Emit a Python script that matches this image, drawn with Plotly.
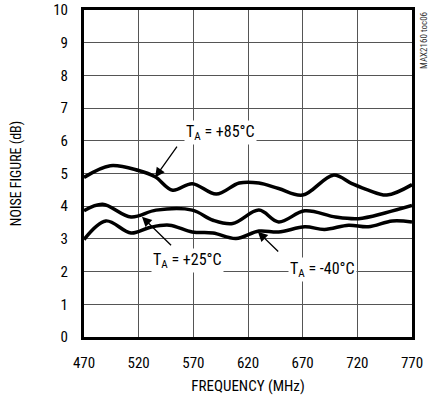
import plotly.graph_objects as go

freq_85 = [470, 494, 520, 535, 551, 569, 591, 612, 630, 648, 670, 698, 715, 730, 747, 770]
nf_85 = [4.88, 5.24, 5.09, 4.9, 4.49, 4.69, 4.37, 4.71, 4.71, 4.54, 4.34, 4.95, 4.69, 4.49, 4.34, 4.66]

freq_25 = [470, 487, 513, 536, 569, 588, 606, 630, 648, 672, 700, 721, 746, 770]
nf_25 = [3.86, 4.06, 3.67, 3.88, 3.88, 3.57, 3.47, 3.88, 3.52, 3.86, 3.67, 3.62, 3.80, 4.02]

freq_m40 = [470, 490, 513, 530, 548, 569, 588, 609, 630, 648, 672, 690, 712, 730, 752, 770]
nf_m40 = [2.98, 3.55, 3.18, 3.35, 3.42, 3.21, 3.18, 3.01, 3.24, 3.21, 3.37, 3.29, 3.42, 3.37, 3.55, 3.52]

x_ticks = [470, 520, 570, 620, 670, 720, 770]
y_ticks = [0, 1, 2, 3, 4, 5, 6, 7, 8, 9, 10]

FONT = "Liberation Sans Narrow, Roboto Condensed, Liberation Sans, Arial"

fig = go.Figure()
for fx, fy in [(freq_85, nf_85), (freq_25, nf_25), (freq_m40, nf_m40)]:
    fig.add_trace(go.Scatter(x=fx, y=fy, mode="lines",
                             line=dict(color="black", width=3.5, shape="spline", smoothing=1.0),
                             showlegend=False, hoverinfo="skip"))

labels = [
    ("T<sub>A</sub> = +85°C", 595, 6.24, 556, 5.87, 535, 4.88),
    ("T<sub>A</sub> = +25°C", 565, 2.35, 551, 2.76, 523, 3.68),
    ("T<sub>A</sub> = -40°C", 688, 2.05, 649, 2.57, 629, 3.22),
]
for text, tx, ty, ax0, ay0, hx, hy in labels:
    fig.add_annotation(x=tx, y=ty, text=text, showarrow=False,
                       font=dict(family=FONT, size=16, color="black"),
                       bgcolor="white", borderpad=1)
    fig.add_annotation(x=hx, y=hy, ax=ax0, ay=ay0, axref="x", ayref="y",
                       text="", showarrow=True, arrowhead=2, arrowsize=1.5,
                       arrowwidth=1.3, arrowcolor="black", standoff=0)

fig.add_annotation(x=1.035, y=1.0, xref="paper", yref="paper", text="MAX2160 toc06",
                   textangle=-90, showarrow=False, xanchor="center", yanchor="top",
                   font=dict(family=FONT, size=9, color="#333"))

fig.update_xaxes(range=[470, 770], tickvals=x_ticks, ticktext=[str(v) for v in x_ticks],
                 showgrid=True, gridcolor="#555", gridwidth=1,
                 showline=True, linecolor="black", linewidth=3, mirror=True,
                 ticks="", zeroline=False, automargin=False, ticklabelstandoff=10,
                 title=dict(text="FREQUENCY (MHz)", font=dict(family=FONT, size=15, color="black"), standoff=10),
                 tickfont=dict(family=FONT, size=15, color="black"))
fig.update_yaxes(range=[0, 10], tickvals=y_ticks, ticktext=[str(v) for v in y_ticks],
                 showgrid=True, gridcolor="#555", gridwidth=1,
                 showline=True, linecolor="black", linewidth=3, mirror=True,
                 ticks="", zeroline=False, automargin=False, ticklabelstandoff=10,
                 title=dict(text="NOISE FIGURE (dB)", font=dict(family=FONT, size=14, color="black"), standoff=29),
                 tickfont=dict(family=FONT, size=15, color="black"))

fig.update_layout(width=436, height=400, margin=dict(l=84, r=24, t=10, b=63, autoexpand=False),
                  plot_bgcolor="white", paper_bgcolor="white")

fig.write_html("out.html", config={"displayModeBar": False},
               post_script="document.body.style.margin='0';")
